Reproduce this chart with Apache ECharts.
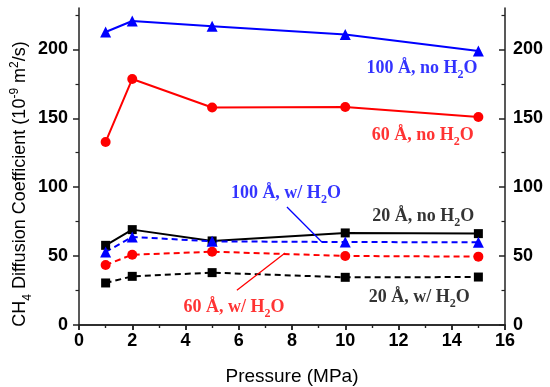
<!DOCTYPE html>
<html>
<head>
<meta charset="utf-8">
<script src="https://cdn.jsdelivr.net/npm/echarts@6/dist/echarts.min.js"></script>
<style>html,body{margin:0;padding:0;background:#fff}#c{width:550px;height:387px}</style>
</head>
<body>
<div id="c"></div>
<script>
// ---- data ----
const pressure = [1, 2, 5, 10, 15];
const d100no = [212.6, 220.6, 216.8, 210.7, 198.8];
const d60no  = [132.8, 178.5, 157.8, 158.2, 150.9];
const d20no  = [57.8, 69.2, 61.0, 66.8, 66.3];
const d100w  = [53.0, 63.9, 60.7, 60.2, 60.0];
const d60w   = [43.5, 51.0, 53.2, 50.1, 49.6];
const d20w   = [30.5, 35.3, 38.0, 34.6, 34.8];
const yMajorTicks = [0, 50, 100, 150, 200];
const yMinorTicks = [25, 75, 125, 175, 225];
const xTickInterval = 2;

// annotation texts (placed in data coordinates)
const annText = ['100 Å, no H', '60 Å, no H', '100 Å, w/ H', '20 Å, no H', '60 Å, w/ H', '20 Å, w/ H'];
const annX = [12.88, 12.91, 7.77, 12.93, 5.82, 12.78];
const annY = [186.4, 137.8, 95.6, 78.9, 12.9, 20.1];
const annColor = ['#0000ff', '#ff0000', '#0000ff', '#000000', '#ff0000', '#000000'];
// leader lines
const leaderBlueX = [7.81, 9.12], leaderBlueY = [85.6, 60.2];
const leaderRedX = [5.93, 7.74], leaderRedY = [25.2, 52.2];

const zip = (xs, ys) => xs.map((x, i) => [x, ys[i]]);

const chart = echarts.init(document.getElementById('c'), null, {renderer: 'canvas'});
const axisCol = '#222';
const tickFont = {fontFamily: 'Liberation Sans, Arial', fontWeight: 'bold', fontSize: 18, color: '#000'};

function dataSeries(name, ys, color, symbol, size, dashed) {
  return {
    name, type: 'line', data: zip(pressure, ys),
    symbol, symbolSize: size,
    itemStyle: {color},
    lineStyle: {color, width: 2, type: dashed ? [6, 4] : 'solid'},
    xAxisIndex: 0, yAxisIndex: 0, z: 3
  };
}

const annSeries = annText.map((t, i) => ({
  type: 'scatter', xAxisIndex: 0, yAxisIndex: 0, symbolSize: 0, silent: true,
  data: [[annX[i], annY[i]]],
  label: {
    show: true, position: 'inside',
    formatter: '{a|' + t + '}{s|2}{a|O}',
    rich: {
      a: {fontFamily: 'Liberation Serif, Times New Roman', fontWeight: 'bold', fontSize: 18, color: annColor[i], lineHeight: 20},
      s: {fontFamily: 'Liberation Serif, Times New Roman', fontWeight: 'bold', fontSize: 12, color: annColor[i], lineHeight: 12, verticalAlign: 'bottom', padding: [0, 0, -3, 0]}
    }
  }
}));

const option = {
  animation: false,
  backgroundColor: '#fff',
  grid: {left: 79, right: 45, top: 8, bottom: 62, containLabel: false, outerBoundsMode: 'none'},
  xAxis: [
    {
      type: 'value', min: 0, max: 16, interval: xTickInterval, position: 'bottom',
      axisLine: {lineStyle: {color: axisCol, width: 1.5}},
      axisTick: {inside: false, length: 5, lineStyle: {color: axisCol, width: 1.5}},
      minorTick: {show: true, splitNumber: 2, length: 3, lineStyle: {color: axisCol, width: 1.2}},
      axisLabel: Object.assign({margin: 7}, tickFont),
      splitLine: {show: false},
      name: 'Pressure (MPa)', nameLocation: 'middle', nameGap: 42,
      nameTextStyle: {fontFamily: 'Liberation Sans, Arial', fontSize: 19, color: '#000'}
    },
    {
      type: 'value', min: 0, max: 16, interval: xTickInterval, position: 'top',
      axisLine: {lineStyle: {color: axisCol, width: 1.5}},
      axisTick: {inside: true, length: 5, lineStyle: {color: axisCol, width: 1.5}},
      minorTick: {show: true, splitNumber: 2, length: 3, lineStyle: {color: axisCol, width: 1.2}},
      axisLabel: {show: false}, splitLine: {show: false}
    }
  ],
  yAxis: [
    {
      type: 'value', min: 0, max: 230, position: 'left',
      axisLine: {show: true, lineStyle: {color: axisCol, width: 1.5}},
      axisTick: {show: true, inside: false, length: 6, customValues: yMajorTicks, lineStyle: {color: axisCol, width: 1.5}},
      axisLabel: Object.assign({margin: 11, customValues: yMajorTicks}, tickFont),
      splitLine: {show: false}
    },
    {
      type: 'value', min: 0, max: 230, position: 'left',
      axisLine: {show: false},
      axisTick: {show: true, inside: false, length: 3.5, customValues: yMinorTicks, lineStyle: {color: axisCol, width: 1.2}},
      axisLabel: {show: false}, splitLine: {show: false}
    },
    {
      type: 'value', min: 0, max: 230, position: 'right',
      axisLine: {show: true, lineStyle: {color: axisCol, width: 1.5}},
      axisTick: {show: true, inside: true, length: 6, customValues: yMajorTicks, lineStyle: {color: axisCol, width: 1.5}},
      axisLabel: Object.assign({margin: 8, customValues: yMajorTicks}, tickFont),
      splitLine: {show: false}
    },
    {
      type: 'value', min: 0, max: 230, position: 'right',
      axisLine: {show: false},
      axisTick: {show: true, inside: true, length: 3.5, customValues: yMinorTicks, lineStyle: {color: axisCol, width: 1.2}},
      axisLabel: {show: false}, splitLine: {show: false}
    }
  ],
  graphic: [{
    type: 'text', x: 20, y: 184, rotation: Math.PI / 2, silent: true,
    style: {
      text: '{a|CH}{s|4}{a| Diffusion Coefficient (10}{p|-9}{a| m}{p|2}{a|/s)}',
      align: 'center', verticalAlign: 'middle',
      rich: {
        a: {fontFamily: 'Liberation Sans, Arial', fontSize: 18, fill: '#000', lineHeight: 22},
        s: {fontFamily: 'Liberation Sans, Arial', fontSize: 12, fill: '#000', lineHeight: 12, verticalAlign: 'bottom', padding: [0, 0, -3, 0]},
        p: {fontFamily: 'Liberation Sans, Arial', fontSize: 12, fill: '#000', lineHeight: 12, verticalAlign: 'top'}
      }
    }
  }],
  series: [
    dataSeries('100 Å, no H2O', d100no, '#0000ff', 'triangle', 11, false),
    dataSeries('60 Å, no H2O', d60no, '#ff0000', 'circle', 10, false),
    dataSeries('20 Å, no H2O', d20no, '#000000', 'rect', 9, false),
    dataSeries('100 Å, w/ H2O', d100w, '#0000ff', 'triangle', 11, true),
    dataSeries('60 Å, w/ H2O', d60w, '#ff0000', 'circle', 10, true),
    dataSeries('20 Å, w/ H2O', d20w, '#000000', 'rect', 9, true),
    {type: 'line', data: zip(leaderBlueX, leaderBlueY), symbol: 'none', silent: true,
     lineStyle: {color: '#0000ff', width: 1.3}, xAxisIndex: 0, yAxisIndex: 0, z: 4},
    {type: 'line', data: zip(leaderRedX, leaderRedY), symbol: 'none', silent: true,
     lineStyle: {color: '#ff0000', width: 1.3}, xAxisIndex: 0, yAxisIndex: 0, z: 4}
  ].concat(annSeries)
};
chart.setOption(option);
</script>
</body>
</html>
